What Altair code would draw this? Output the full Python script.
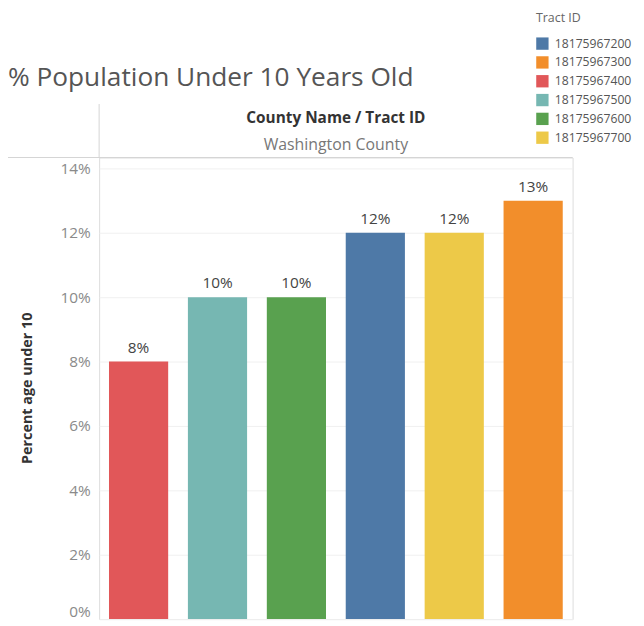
import altair as alt
import pandas as pd

# Data
tracts = ["18175967400", "18175967500", "18175967600", "18175967200", "18175967700", "18175967300"]
values = [0.08, 0.10, 0.10, 0.12, 0.12, 0.13]
labels = ["8%", "10%", "10%", "12%", "12%", "13%"]
legend_ids = ["18175967200", "18175967300", "18175967400", "18175967500", "18175967600", "18175967700"]
legend_colors = ["#4E79A7", "#F28E2B", "#E15759", "#76B7B2", "#59A14F", "#EDC948"]
y_ticks = [0, 0.02, 0.04, 0.06, 0.08, 0.10, 0.12, 0.14]

title_text = "% Population Under 10 Years Old"
header_1 = "County Name / Tract ID"
header_2 = "Washington County"
y_title = "Percent age under 10"

df = pd.DataFrame({"tract": tracts, "value": values, "label": labels})

FONT = "Open Sans"
W, H = 478, 466

x_enc = alt.X("tract:N", sort=tracts, axis=None,
              scale=alt.Scale(paddingInner=0.25, paddingOuter=0.125))
y_enc = alt.Y("value:Q",
              scale=alt.Scale(domain=[0, 0.1434], nice=False, zero=True),
              axis=alt.Axis(values=y_ticks, format=".0%", title=None,
                            labelColor="#8a8a8a", labelFontSize=15.5, labelFont=FONT,
                            labelPadding=9, ticks=False, domain=False,
                            grid=True, gridColor="#f0f0f0", labelFlush=True))

bars = alt.Chart(df).mark_bar().encode(
    x=x_enc,
    y=y_enc,
    color=alt.Color("tract:N",
                    scale=alt.Scale(domain=legend_ids, range=legend_colors),
                    legend=alt.Legend(title="Tract ID", orient="none",
                                      legendX=441, legendY=-147, padding=0,
                                      titleFontSize=12.5, titleColor="#666",
                                      titleFontWeight="normal", titleFont=FONT,
                                      titlePadding=13,
                                      labelFontSize=12.3, labelColor="#555", labelFont=FONT,
                                      symbolType="square", symbolSize=155,
                                      symbolStrokeWidth=0, symbolOpacity=1,
                                      rowPadding=6, labelOffset=6)),
)

bar_text = alt.Chart(df).mark_text(dy=-14, fontSize=15.5, color="#444", font=FONT,
                                   baseline="middle").encode(
    x=alt.X("tract:N", sort=tracts),
    y="value:Q",
    text="label:N",
)

one = pd.DataFrame({"a": [0]})

title_mark = alt.Chart(pd.DataFrame({"t": [title_text]})).mark_text(
    align="left", baseline="alphabetic", fontSize=26.5, color="#555", font=FONT
).encode(x=alt.value(-92), y=alt.value(-72), text="t:N")

h1 = alt.Chart(pd.DataFrame({"t": [header_1]})).mark_text(
    align="center", baseline="middle", fontSize=15.5, fontWeight="bold", color="#333", font=FONT
).encode(x=alt.value(239), y=alt.value(-40), text="t:N")

h2 = alt.Chart(pd.DataFrame({"t": [header_2]})).mark_text(
    align="center", baseline="middle", fontSize=16, color="#777", font=FONT
).encode(x=alt.value(239), y=alt.value(-13), text="t:N")

ytitle = alt.Chart(pd.DataFrame({"t": [y_title]})).mark_text(
    align="center", baseline="middle", fontSize=14.5, fontWeight="bold", color="#333",
    font=FONT, angle=270
).encode(x=alt.value(-72), y=alt.value(233), text="t:N")

hline = alt.Chart(one).mark_rule(color="#d4d4d4", strokeWidth=1).encode(
    x=alt.value(-92), x2=alt.value(W), y=alt.value(0))

vline = alt.Chart(one).mark_rule(color="#d4d4d4", strokeWidth=1).encode(
    x=alt.value(0), y=alt.value(-54), y2=alt.value(0))

chart = alt.layer(bars, bar_text, hline, vline, title_mark, h1, h2, ytitle).properties(
    width=W, height=H,
    autosize=alt.AutoSizeParams(type="none"),
    padding={"left": 92, "top": 148, "right": 64, "bottom": 2},
).configure_view(stroke="#dcdcdc", strokeWidth=1).configure(background="white")

chart.save("out.html", embed_options={"renderer": "svg", "actions": False})
